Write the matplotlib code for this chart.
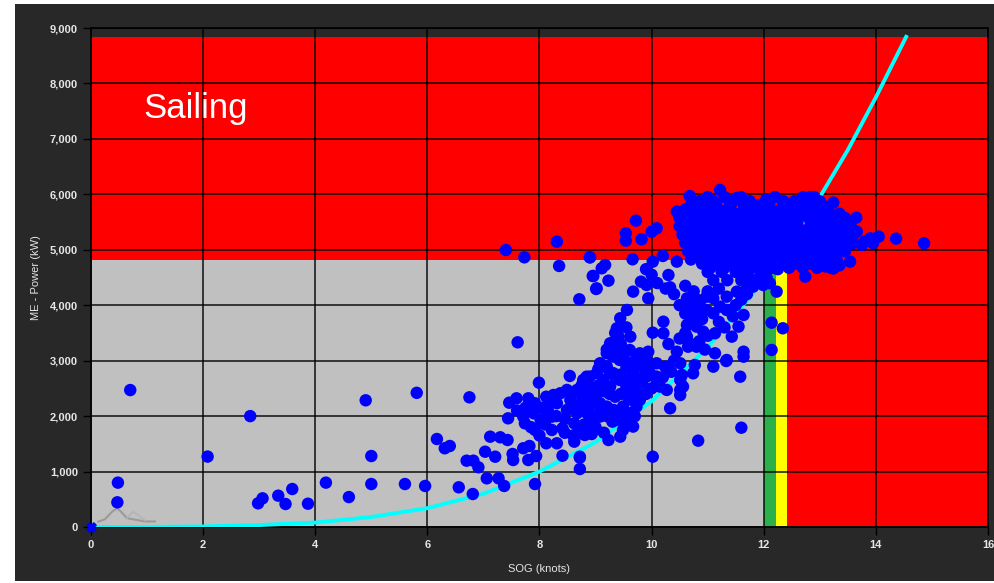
# plot.py
# Main engine power vs speed over ground, with operating zones
import matplotlib.pyplot as plt
from matplotlib.patches import Rectangle

# --- zones (knots / kW) ---
GRAY_TOP = 4820
RED_TOP = 8840
GREEN_FROM, GREEN_TO = 12.0, 12.22
YELLOW_TO = 12.42

# --- fitted propeller curve ---
curve_sog = [0, 1, 2, 3, 4, 5, 6, 7, 8, 9, 10, 11, 12, 12.5, 13, 13.5, 14, 14.54]
curve_kw = [0, 1, 10, 35, 80, 180, 340, 600, 1000, 1530, 2270, 3240, 4450,
            5200, 5950, 6800, 7750, 8840]

# --- little grey sparkline near the origin ---
icon_sog = [0.13, 0.25, 0.38, 0.47, 0.56, 0.64, 0.96, 1.14]
icon_kw = [96, 140, 280, 340, 250, 160, 100, 100]
icon2_sog = [0.64, 0.70, 0.75, 0.82, 0.96]
icon2_kw = [160, 230, 276, 230, 120]

# --- sparse low-speed points ---
low_sog = [0.47, 0.48, 0.70, 2.08, 2.84, 2.98, 3.06, 3.34, 3.59, 3.47, 3.87,
           4.19, 4.60, 5.00, 5.60, 5.00, 4.90, 5.81, 5.96, 6.56, 6.81, 6.75,
           7.61, 7.92]
low_kw = [445, 800, 2470, 1270, 2000, 427, 517, 565, 685, 415, 420,
          800, 540, 775, 775, 1280, 2285, 2420, 740, 716, 595, 2339,
          3331, 775]

# --- middle band (6 - 12 knots) ---
mid_sog = [6.17, 6.31, 6.40, 6.70, 6.82, 6.91, 7.03, 7.12, 7.30, 7.43, 7.21,
           7.06, 7.27, 7.37, 7.52, 7.53, 7.71, 7.82, 7.80, 7.94, 7.46, 7.59,
           7.44, 7.71, 7.74, 7.80, 7.92, 7.92, 8.02, 8.12, 8.22, 8.12, 8.22,
           8.31, 8.41, 8.41, 8.25, 8.37, 8.54, 8.57, 8.62, 8.62, 8.72, 8.72,
           8.84, 8.93, 8.78, 8.93, 7.99,
           8.49, 8.67, 8.85, 9.02, 8.55, 8.73, 8.90, 9.08, 8.67, 8.85, 9.02,
           8.49, 8.31, 8.19,
           9.31, 9.43, 9.55, 9.67, 9.32, 9.43, 9.55, 9.67, 9.79, 9.26, 9.14,
           9.02, 8.90, 8.78, 8.72, 8.84, 8.96, 9.08, 9.20, 9.32, 9.49, 9.61,
           9.73, 9.85, 9.91, 10.09, 10.15, 10.27, 10.51, 10.56, 9.67, 9.49,
           9.37, 9.08, 8.90, 8.78, 9.79, 9.91, 9.61, 9.49, 9.20, 9.08,
           9.56, 9.44, 9.38, 9.41, 9.62, 9.26, 9.20, 9.94, 10.09, 9.97,
           10.24, 10.45, 10.63, 10.74, 10.80, 10.92, 10.63, 10.65, 10.80,
           10.51, 10.54, 10.77, 10.74, 10.51, 10.51, 11.13, 11.13, 11.10,
           11.34, 11.34, 11.55, 11.64, 11.43, 11.64, 11.64, 11.58, 11.60,
           10.83, 10.33, 10.02, 9.23, 9.44, 8.72, 8.93, 8.81, 10.21, 10.21,
           10.02, 12.14, 12.34, 12.14, 11.33]
mid_kw = [1587, 1420, 1461, 1196, 1196, 1077, 1358, 1629, 1618, 1569, 1268,
          878, 878, 740, 1317, 1208, 1420, 1461, 1208, 1280, 2242, 2321,
          1960, 1990, 1870, 2321, 2231, 1750, 1935, 2350, 1990, 1510, 1750,
          1510, 1780, 1286, 2381, 2412, 2724, 2412, 1870, 1539, 1250, 1046,
          2711, 2231, 1677, 1677, 2603,
          2472, 2472, 2412, 2412, 2292, 2232, 2232, 2172, 2052, 2052, 1992,
          2112, 2232, 2292,
          3073, 3013, 2893, 2773, 2773, 2652, 2532, 2412, 2292, 2532, 2652,
          2773, 2713, 2652, 2412, 2352, 2292, 2232, 2172, 2112, 2172, 2052,
          2172, 2532, 2713, 2713, 2532, 2472, 2652, 2532, 1811, 1751,
          1931, 1992, 1931, 2172, 3133, 3013, 3193, 3193, 2893, 2953,
          3914, 3765, 3584, 3433, 3433, 3314, 3133, 3162, 2953, 2772,
          2892, 3162, 3644, 3794, 3614, 3523, 3433, 3252, 3252,
          2953, 2742, 2922, 2772, 2471, 2380, 3494, 3133, 2892,
          3012, 3914, 3614, 3824, 3433, 3162, 3072, 2711, 1791,
          1557, 2141, 1268, 1569, 1629, 1268, 1690, 1660, 3703, 3494,
          3505, 3685, 3584, 3193, 2994]

# --- extra points filling the 7.5 - 12 knot band ---
fill_sog = [8.75, 8.85, 8.95, 9.05, 9.15, 9.25, 9.35, 9.45, 9.60, 9.70, 9.80,
            9.90, 9.05, 9.15, 9.25, 9.35, 9.45, 9.55, 9.65, 9.75, 9.85, 9.95,
            9.20, 9.30, 9.40, 9.50, 9.60, 9.70, 9.80, 9.90, 9.35, 9.45, 9.55,
            9.00, 9.10, 9.20, 9.30, 9.40, 9.50, 9.60, 9.70, 8.90, 8.80, 9.00,
            9.15, 10.00, 10.10, 10.20, 10.35, 10.40, 10.30, 10.50, 10.60,
            10.70, 10.85, 10.95, 11.00, 11.20, 11.30, 11.45, 11.50, 11.60,
            11.70, 10.90, 10.80, 10.60, 10.50, 10.40, 10.25, 10.10, 10.00,
            9.90, 10.60, 10.75, 11.20, 11.00, 11.85, 12.05,
            7.60, 7.75, 7.90, 8.05, 8.15, 8.30, 8.45, 8.60, 8.10, 7.85, 8.00,
            8.45, 8.60, 8.70]
fill_kw = [2550, 2600, 2500, 2550, 2450, 2400, 2350, 2400, 2300, 2350, 2450,
           2400, 2850, 2900, 2800, 2700, 2750, 2650, 2600, 2650, 2700, 2800,
           3200, 3250, 3100, 3050, 2950, 3000, 2900, 2950, 3500, 3300, 3600,
           2300, 2100, 2000, 1900, 2050, 1900, 1850, 2000, 2050, 1850, 1800,
           1700, 2500, 2600, 2700, 2800, 3000, 3300, 3400, 3500,
           3300, 3350, 3200, 3450, 3700, 3600, 3800, 4000, 4100,
           4200, 3750, 3900, 3850, 4000, 4200, 4300, 4400, 4550,
           4650, 4350, 4250, 4300, 4250, 4450, 4500,
           2100, 2150, 2050, 2150, 2100, 2000, 1950, 2150, 1850, 1800, 1650,
           1700, 1650, 1750]

# --- upper transition (8.5 - 12.5 knots, 3800 - 5600 kW) ---
upper_sog = [7.40, 7.73, 8.31, 8.35, 8.90, 8.95, 9.01, 8.71, 8.90, 9.72,
             9.54, 9.54, 9.66, 9.11, 9.17, 8.96, 9.02, 9.23, 9.67, 9.81,
             9.91, 9.94, 9.82, 10.02, 10.20, 10.00, 10.09, 10.33, 10.30,
             10.45, 10.45, 10.51, 10.63, 10.98, 10.86, 11.10, 11.22, 11.34,
             11.52, 11.70, 11.81, 11.99, 11.10, 10.98, 10.83, 10.68,
             12.74, 13.24, 12.23, 12.11]
upper_kw = [4996, 4864, 5146, 4708, 4864, 4527, 4293, 4107, 4864, 5525,
            5297, 5164, 4828, 4666, 4726, 4527, 4305, 4443, 4245, 4425,
            4365, 4125, 5189, 4786, 4888, 5327, 5388, 4323, 4545,
            4786, 5688, 5610, 4125, 3914, 4064, 3854, 3974, 4154,
            4245, 4305, 4335, 4365, 4125, 4154, 4094, 4004,
            4515, 4666, 4245, 4395]

# --- dense cluster at service speed ---
blob_sog = [11.0, 11.3, 11.6, 12.2, 12.7, 12.9, 11.22, 10.68, 11.52, 12.04, 12.83,
            10.7, 10.95, 11.15, 11.4, 11.65, 11.9, 12.1, 12.35, 12.6, 12.85, 13.05,
            10.6, 10.85, 11.05, 11.3, 11.5, 11.75, 11.95, 12.2, 12.45, 12.7, 12.95,
            13.15, 13.35,
            10.55, 10.8, 11.0, 11.2, 11.45, 11.7, 11.9, 12.15, 12.4, 12.6, 12.85,
            13.05, 13.3, 13.5,
            10.6, 10.85, 11.1, 11.3, 11.55, 11.8, 12.0, 12.25, 12.5, 12.75, 12.95,
            13.2, 13.4,
            10.65, 10.9, 11.15, 11.35, 11.6, 11.85, 12.1, 12.3, 12.55, 12.8, 13.0,
            13.25, 13.45,
            10.75, 11.0, 11.2, 11.45, 11.7, 11.9, 12.15, 12.4, 12.65, 12.85, 13.1,
            13.3,
            10.8, 11.05, 11.3, 11.55, 11.75, 12.0, 12.25, 12.5, 12.7, 12.95, 13.2,
            10.9, 11.15, 11.4, 11.6, 11.85, 12.1, 12.35, 12.6, 12.85, 13.05,
            11.0, 11.25, 11.5, 11.7, 11.95, 12.25, 13.1, 13.35,
            11.1, 11.35, 11.6, 11.8,
            13.65, 13.24, 14.05, 14.36, 14.86, 13.54, 13.66, 13.90, 13.75, 13.54,
            13.24, 13.12, 13.48, 13.36, 13.24, 13.18, 13.8, 13.95]
blob_kw = [5950, 5950, 5950, 5950, 5950, 5950, 6080, 5970, 5934, 5900, 5952,
           5800, 5800, 5800, 5800, 5800, 5800, 5800, 5800, 5800, 5800, 5800,
           5650, 5650, 5650, 5650, 5650, 5650, 5650, 5650, 5650, 5650, 5650,
           5650, 5650,
           5500, 5500, 5500, 5500, 5500, 5500, 5500, 5500, 5500, 5500, 5500,
           5500, 5500, 5500,
           5350, 5350, 5350, 5350, 5350, 5350, 5350, 5350, 5350, 5350, 5350,
           5350, 5350,
           5200, 5200, 5200, 5200, 5200, 5200, 5200, 5200, 5200, 5200, 5200,
           5200, 5200,
           5050, 5050, 5050, 5050, 5050, 5050, 5050, 5050, 5050, 5050, 5050,
           5050,
           4900, 4900, 4900, 4900, 4900, 4900, 4900, 4900, 4900, 4900, 4900,
           4750, 4750, 4750, 4750, 4750, 4750, 4750, 4750, 4750, 4750,
           4600, 4600, 4600, 4600, 4600, 4650, 4700, 4720,
           4450, 4450, 4450, 4450,
           5580, 5850, 5237, 5201, 5117, 5357, 5327, 5207, 5087, 4786,
           4666, 4726, 5057, 4997, 5477, 5237, 5150, 5120]

# --- second, offset layer of the service-speed cluster ---
blob2_sog = [10.85, 11.1, 11.45, 11.75, 12.05, 12.35, 12.55, 12.8, 13.0,
             10.6, 10.8, 11.0, 11.2, 11.4, 11.65, 11.85, 12.05, 12.3, 12.5,
             12.75, 12.95, 13.15,
             10.5, 10.7, 10.95, 11.15, 11.4, 11.6, 11.85, 12.05, 12.3, 12.55,
             12.8, 13.0, 13.2, 13.45,
             10.5, 10.7, 10.95, 11.2, 11.4, 11.65, 11.9, 12.1, 12.35, 12.6,
             12.85, 13.1, 13.3, 13.55,
             10.55, 10.75, 11.0, 11.25, 11.45, 11.7, 11.95, 12.2, 12.4, 12.65,
             12.9, 13.1, 13.35, 13.6,
             10.6, 10.8, 11.05, 11.25, 11.5, 11.75, 12.0, 12.2, 12.45, 12.7,
             12.9, 13.15, 13.4, 13.6,
             10.65, 10.9, 11.1, 11.35, 11.6, 11.8, 12.05, 12.3, 12.55, 12.75,
             13.0, 13.2, 13.45,
             10.7, 10.95, 11.2, 11.4, 11.65, 11.9, 12.15, 12.4, 12.6, 12.8,
             13.05, 13.3,
             11.05, 11.3, 11.5, 11.8, 12.0, 12.15, 12.45, 12.7, 12.95, 13.2]
blob2_kw = [5875] * 9 + [5725] * 13 + [5575] * 14 + [5425] * 14 + \
           [5275] * 14 + [5125] * 14 + [4975] * 13 + [4825] * 12 + [4675] * 10

x_ticks = [0, 2, 4, 6, 8, 10, 12, 14, 16]
y_ticks = [0, 1000, 2000, 3000, 4000, 5000, 6000, 7000, 8000, 9000]

BG = "#282828"
TXT = "#e6e6e6"

fig = plt.figure(figsize=(9.95, 5.83), dpi=100, facecolor="white")
fig.patches.append(Rectangle((15 / 995, 2 / 583), 980 / 995, 577 / 583,
                             transform=fig.transFigure, facecolor=BG,
                             edgecolor="none", zorder=-10))
ax = fig.add_axes([91 / 995, 56 / 583, 897 / 995, 499 / 583])
ax.set_zorder(1)
ax.set_facecolor(BG)

# zones
ax.fill_between([0, GREEN_FROM], 0, GRAY_TOP, color="#c0c0c0", lw=0, zorder=0.5)
ax.fill_between([0, YELLOW_TO], GRAY_TOP, RED_TOP, color="#ff0000", lw=0, zorder=0.5)
ax.fill_between([YELLOW_TO, 16], 0, RED_TOP, color="#ff0000", lw=0, zorder=0.5)
ax.fill_between([GREEN_FROM, GREEN_TO], 0, GRAY_TOP, color="#2bb04a", lw=0, zorder=0.5)
ax.fill_between([GREEN_TO, YELLOW_TO], 0, GRAY_TOP, color="#ffff00", lw=0, zorder=0.5)

ax.set_xlim(0, 16)
ax.set_ylim(0, 9000)
ax.set_xticks(x_ticks)
ax.set_yticks(y_ticks)
ax.set_yticklabels([f"{v:,}" for v in y_ticks])
ax.grid(True, color="black", lw=1.2, alpha=0.85)
ax.set_axisbelow(False)

ax.plot(icon_sog, icon_kw, color="#9a9a9a", lw=1.5, zorder=2.6)
ax.plot(icon2_sog, icon2_kw, color="#b4b4b4", lw=1.2, zorder=2.6)
ax.plot(curve_sog, curve_kw, color="#00ffff", lw=2.8, zorder=2.7)

for xs, ys in [(low_sog, low_kw), (mid_sog, mid_kw), (fill_sog, fill_kw),
               (upper_sog, upper_kw), (blob_sog, blob_kw),
               (blob2_sog, blob2_kw)]:
    ax.scatter(xs, ys, s=80, color="#0000ff", edgecolors="none", zorder=3)
ax.scatter([0], [0], s=45, marker="X", color="#0000ff", zorder=4, clip_on=False)

ax.text(0.93, 7377, "Sailing", color="white", fontsize=25,
        family="Liberation Sans", va="baseline", zorder=5)

for sp in ax.spines.values():
    sp.set_color("black")
    sp.set_linewidth(1.2)
ax.tick_params(colors="black", length=6, width=1, labelcolor=TXT, labelsize=8)
for lab in ax.get_xticklabels() + ax.get_yticklabels():
    lab.set_fontweight("bold")
    lab.set_family("Liberation Sans")

ax.set_xlabel("SOG (knots)", color=TXT, fontsize=8, family="Liberation Sans",
              labelpad=10)
ax.set_ylabel("ME - Power (kW)", color=TXT, fontsize=8, family="Liberation Sans",
              labelpad=6)

fig.savefig("out.png", dpi=100, facecolor="white")
